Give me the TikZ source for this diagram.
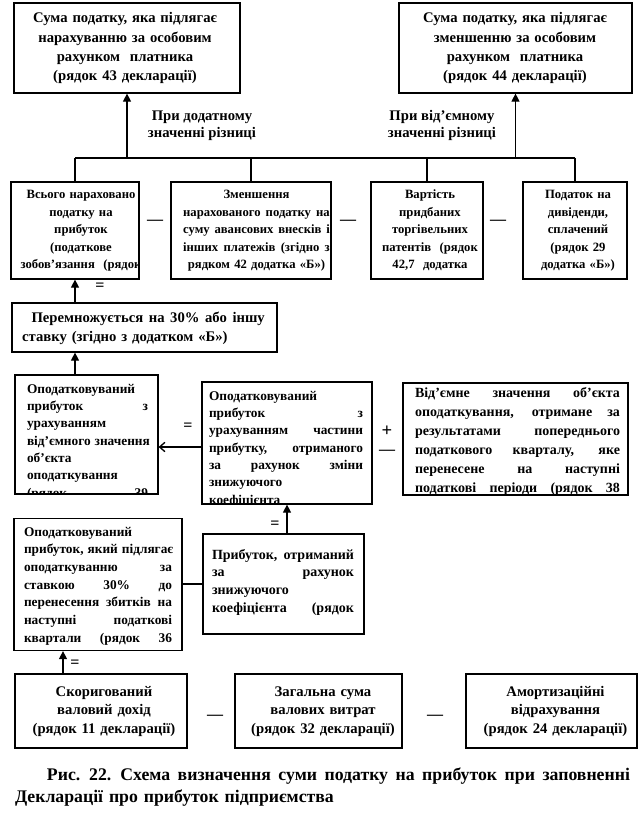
\documentclass[tikz,border=0pt]{standalone}
\usepackage{fontspec}
\setmainfont{Liberation Serif}
\usetikzlibrary{arrows.meta, positioning, calc}

% justified line of a given width
\newcommand{\jl}[1]{\makebox[\hsize][s]{\spaceskip=0.3em plus 1fil\relax #1}}

% box with clipped text: name, centre, width, height, text base, text options, text
\newcommand{\tbox}[7]{%
  \node[box, minimum width=#3, minimum height=#4] (#1) at (#2) {};
  \begin{scope}
    \clip (#1.north west) rectangle (#1.south east);
    \node[txt, #6] (#1-t) at (#5) {#7};
  \end{scope}}

\begin{document}
\begin{tikzpicture}[
        x=0.75pt, y=-0.75pt,
        box/.style={draw, line width=0.9pt, inner sep=0pt},
        txt/.style={inner sep=0pt, anchor=base},
        big/.style={font=\bfseries\fontsize{11}{14.5}\selectfont},
        small/.style={font=\bfseries\fontsize{9.5}{13.1}\selectfont},
        mid/.style={font=\bfseries\fontsize{10}{13}\selectfont},
        sign/.style={inner sep=0pt, font=\bfseries\fontsize{12}{12}\selectfont},
        arr/.style={-{Triangle[length=6pt,width=6pt]}, line width=0.8pt},
        harr/.style={-{Straight Barb[length=4pt,width=7pt]}, line width=1pt},
        bus/.style={line width=1.5pt},
        link/.style={line width=0.8pt}
    ]
    \useasboundingbox (0,0) rectangle (643,823);

    % top results
    \tbox{sum43}{127,48}{169.5pt}{67.5pt}{125,23}{big, text width=160pt, align=center}
        {Сума податку, яка підлягає\\нарахуванню за особовим\\рахунком\ \ платника\\(рядок 43 декларації)}
    \tbox{sum44}{515.5,48}{174.75pt}{67.5pt}{515,23}{big, text width=160pt, align=center}
        {Сума податку, яка підлягає\\зменшенню за особовим\\рахунком\ \ платника\\(рядок 44 декларації)}

    \node[txt, align=center, font=\bfseries\fontsize{11}{13}\selectfont] (pos) at (202,138)
        {При додатному\\значенні різниці};
    \node[txt, align=center, font=\bfseries\fontsize{11}{13}\selectfont] (neg) at (442,138)
        {При від’ємному\\значенні різниці};

    % second row
    \tbox{total}{75,230.5}{96pt}{72.75pt}{81,199}{small, text width=110pt, align=center}
        {Всього нараховано\\податку на\\прибуток\\(податкове\\зобов’язання\ \ (рядок}
    \tbox{advance}{251,230.5}{120pt}{72.75pt}{256.5,199}{small, text width=110pt, align=center}
        {Зменшення\\\jl{нарахованого податку на}\\\jl{суму авансових внесків і}\\\jl{інших платежів (згідно з}\\рядком 42 додатка «Б»)}
    \tbox{patents}{427,230.5}{84pt}{72.75pt}{430,199}{small, text width=90pt, align=center}
        {Вартість\\придбаних\\торгівельних\\патентів\ \ (рядок\\42,7\ \ додатка}
    \tbox{divid}{575,230.5}{78pt}{72.75pt}{578,199}{small, text width=80pt, align=center}
        {Податок на\\дивіденди,\\сплачений\\(рядок 29\\додатка «Б»)}

    \node[sign] (m1) at (155,222) {—};
    \node[sign] (m2) at (348,222) {—};
    \node[sign] (m3) at (498,222) {—};

    % rate
    \tbox{mult}{144.5,327.5}{198.75pt}{36.75pt}{143.5,322}{text width=182pt, align=left, font=\bfseries\fontsize{11}{14.25}\selectfont}
        {\jl{\hspace*{7pt}Перемножується на 30\% або іншу}\\ставку (згідно з додатком «Б»)}

    % taxable profit
    \tbox{taxable}{86.5,434.5}{107.25pt}{89.25pt}{87.5,393}{mid, text width=90.75pt, align=left}
        {Оподатковуваний\\\jl{прибуток з}\\урахуванням\\\jl{від’ємного значення}\\об’єкта\\оподаткування\\\jl{(рядок 39}}
    \tbox{part}{287,443}{127.5pt}{91.5pt}{286,400}{mid, text width=115.5pt, align=left}
        {Оподатковуваний\\\jl{прибуток з}\\\jl{урахуванням частини}\\\jl{прибутку, отриманого}\\\jl{за рахунок зміни}\\знижуючого\\коефіцієнта}
    \tbox{negval}{515.5,439}{168.75pt}{84pt}{517.5,397}{text width=153.75pt, align=left, font=\bfseries\fontsize{10.5}{14.25}\selectfont}
        {\jl{Від’ємне значення об’єкта}\\\jl{оподаткування, отримане за}\\\jl{результатами попереднього}\\\jl{податкового кварталу, яке}\\\jl{перенесене на наступні}\\\jl{податкові періоди (рядок 38}}

    \node[sign] (eq2) at (188,427) {=};
    \node[sign, font=\bfseries\fontsize{14}{14}\selectfont] (plus) at (387,431) {+};
    \node[sign] (minus) at (387,452) {—};

    % profit at 30% and coefficient
    \tbox{base}{98,584.5}{126pt}{99pt}{98,536}{text width=111pt, align=left, font=\bfseries\fontsize{10}{13.25}\selectfont}
        {Оподатковуваний\\\jl{прибуток, який підлягає}\\\jl{оподаткуванню за}\\\jl{ставкою 30\% до}\\\jl{перенесення збитків на}\\\jl{наступні податкові}\\\jl{квартали (рядок 36}}
    \tbox{coef}{283.5,584}{120.75pt}{75pt}{283,559}{text width=106.5pt, align=left, font=\bfseries\fontsize{10.5}{13.25}\selectfont}
        {\jl{Прибуток, отриманий}\\\jl{за рахунок}\\знижуючого\\\jl{коефіцієнта (рядок}}

    \node[sign] (eq3) at (275,525) {=};

    % bottom row
    \tbox{income}{101,711}{129pt}{55.5pt}{104,696}{text width=120pt, align=center, font=\bfseries\fontsize{11}{14}\selectfont}
        {Скоригований\\валовий дохід\\(рядок 11 декларації)}
    \tbox{costs}{318.5,711}{125.25pt}{55.5pt}{323,696}{text width=120pt, align=center, font=\bfseries\fontsize{11}{14}\selectfont}
        {Загальна сума\\валових витрат\\(рядок 32 декларації)}
    \tbox{amort}{551.5,711}{128.25pt}{55.5pt}{555.5,696}{text width=120pt, align=center, font=\bfseries\fontsize{11}{14}\selectfont}
        {Амортизаційні\\відрахування\\(рядок 24 декларації)}

    \node[sign] (m4) at (215,717) {—};
    \node[sign] (m5) at (435,717) {—};
    \node[sign] (eq4) at (75,664) {=};
    \node[sign] (eq1) at (100,287) {=};

    \node[txt, text width=461.25pt, align=left, font=\bfseries\fontsize{13.3}{16.5}\selectfont] (cap) at (322.5,780)
        {\jl{\hspace*{24pt}Рис. 22. Схема визначення суми податку на прибуток при заповненні}\\Декларації про прибуток підприємства};

    % connectors
    \coordinate (busY) at (0,158);
    \coordinate (upX) at (63,0);
    \draw[bus] (total.north |- busY) -- (divid.north |- busY);
    \foreach \n in {total, advance, patents, divid}
        \draw[link] (\n.north |- busY) -- (\n.north);
    \draw[arr] (sum43.south |- busY) -- (sum43.south);
    \draw[arr] (sum44.south |- busY) -- (sum44.south);
    \draw[arr] (total.south |- mult.north) -- (total.south);
    \draw[arr] (total.south |- taxable.north) -- (total.south |- mult.south);
    \draw[harr] ([yshift=-3pt]part.west) -- ([yshift=-3pt]part.west -| taxable.east);
    \draw[arr] (part.south |- coef.north) -- (part.south);
    \draw[link, line width=1.2pt] (coef.west) -- (coef.west -| base.east);
    \draw[arr] (income.north -| upX) -- (base.south -| upX);

\end{tikzpicture}
\end{document}
